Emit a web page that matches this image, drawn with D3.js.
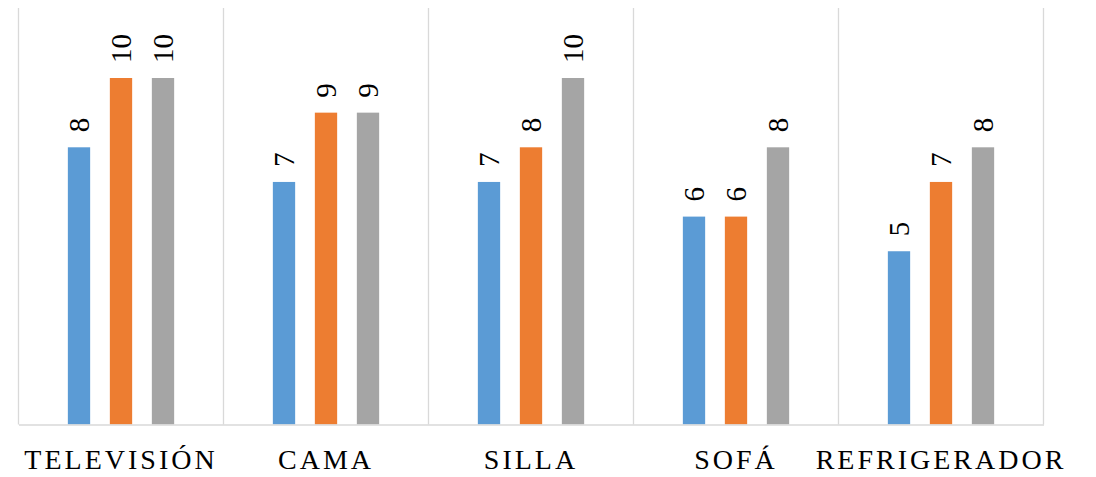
<!DOCTYPE html>
<html>
<head>
<meta charset="utf-8">
<script src="https://cdn.jsdelivr.net/npm/d3@7"></script>
<style>
  html, body { margin: 0; padding: 0; background: #fff; }
  svg { display: block; }
</style>
</head>
<body>
<svg id="chart" width="1096" height="477"></svg>
<script>
const categories = ["TELEVISIÓN", "CAMA", "SILLA", "SOFÁ", "REFRIGERADOR"];
const seriesNames = ["Serie 1", "Serie 2", "Serie 3"];
const serie1 = [8, 7, 7, 6, 5];
const serie2 = [10, 9, 8, 6, 7];
const serie3 = [10, 9, 10, 8, 8];
const seriesColors = ["#5B9BD5", "#ED7D31", "#A5A5A5"];

const seriesValues = [serie1, serie2, serie3];

const svg = d3.select("#chart");
const plotLeft = 18.5, plotRight = 1043.5, plotTop = 8, plotBottom = 424.5;

const y = d3.scaleLinear().domain([0, 12]).range([plotBottom, plotBottom - 12 * 34.65]);
const x0 = d3.scaleBand().domain(categories).range([plotLeft, plotRight]).padding(0);
const x1 = d3.scaleBand().domain(seriesNames).range([0, x0.bandwidth()])
  .paddingInner(0.469).paddingOuter(1.175);

// category separators
const seps = categories.map(c => x0(c)).concat([x0(categories[categories.length - 1]) + x0.bandwidth()]);
svg.append("g").selectAll("line").data(seps).join("line")
  .attr("x1", d => d).attr("x2", d => d)
  .attr("y1", plotTop).attr("y2", plotBottom)
  .attr("stroke", "#d9d9d9").attr("stroke-width", 1.3);

// bars
const groups = svg.append("g").selectAll("g").data(categories).join("g")
  .attr("transform", c => `translate(${x0(c)},0)`);

groups.each(function(c, i) {
  const g = d3.select(this);
  const data = seriesNames.map((s, j) => ({ s, j, v: seriesValues[j][i] }));
  g.selectAll("rect").data(data).join("rect")
    .attr("x", d => x1(d.s))
    .attr("width", x1.bandwidth())
    .attr("y", d => y(d.v))
    .attr("height", d => y(0) - y(d.v))
    .attr("fill", d => seriesColors[d.j]);
  g.selectAll("text").data(data).join("text")
    .attr("transform", d => `translate(${x1(d.s) + x1.bandwidth() / 2},${y(d.v) - 15}) rotate(-90)`)
    .attr("dy", "0.34em")
    .attr("text-anchor", "start")
    .attr("font-family", "'Liberation Serif', 'Times New Roman', serif")
    .attr("font-size", 29)
    .attr("fill", "#000")
    .text(d => d.v);
});

// x axis
const xAxis = d3.axisBottom(x0).tickSize(0).tickPadding(0);
const ax = svg.append("g").attr("transform", `translate(0,${plotBottom})`).call(xAxis);
ax.select(".domain").attr("stroke", "#d9d9d9").attr("stroke-width", 1.3);
ax.selectAll(".tick text")
  .attr("y", 0).attr("dy", 0)
  .attr("transform", "translate(0,44.5)")
  .attr("font-family", "'Liberation Serif', 'Times New Roman', serif")
  .attr("font-size", 28)
  .attr("letter-spacing", "3px")
  .attr("fill", "#000");
</script>
</body>
</html>
